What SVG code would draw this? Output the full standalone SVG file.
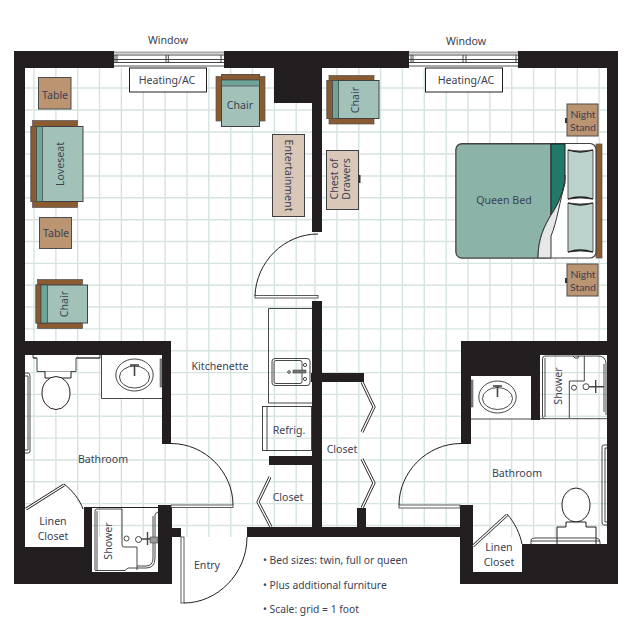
<svg xmlns="http://www.w3.org/2000/svg" width="627" height="638" viewBox="0 0 627 638">
<style>
text{font-family:"Noto Sans","Open Sans",sans-serif;font-size:10.6px;fill:#3a4252;text-anchor:middle;dominant-baseline:central}
text.ns{font-family:Lato,"Noto Sans",sans-serif;font-size:10.4px}
.note{font-size:10.3px;text-anchor:start}
.wall{fill:#231f20}
.grid{stroke:#d6e4e0;stroke-width:1.4;fill:none}
.ln{fill:none;stroke:#231f20;stroke-width:1}
.box{fill:#fff;stroke:#231f20;stroke-width:1}
.tan{fill:#bb9472;stroke:#4d4d4d;stroke-width:1}
.arm{fill:#8a5a30;stroke:#555;stroke-width:.7}
.seat{fill:#a2c2b9;stroke:#414042;stroke-width:1}
.back{fill:#6fa598;stroke:#414042;stroke-width:.7}
.dbl{fill:none;stroke:#231f20;stroke-width:3}
.dbl2{fill:none;stroke:#fff;stroke-width:1.4}
.leaf{fill:#fff;stroke:#333;stroke-width:.8}
.fix{fill:none;stroke:#333;stroke-width:.9}
.wg{stroke:#a7a9ac;stroke-width:2;fill:none}
.wd{stroke:#333;stroke-width:.9;fill:none}
</style>
<defs>
<clipPath id="floor"><path d="M25 68H607V537H25Z"/></clipPath>
</defs>
<g id="floor-grid" clip-path="url(#floor)">
<path class="grid" d="M34 68V537M55.900 68V537M77.700 68V537M99.500 68V537M121.400 68V537M143.300 68V537M165.100 68V537M187 68V537M208.800 68V537M230.700 68V537M252.500 68V537M274.400 68V537M296.200 68V537M315 68V537M336.900 68V537M358.800 68V537M380.600 68V537M402.400 68V537M424.300 68V537M446.200 68V537M468 68V537M489.900 68V537M511.700 68V537M533.600 68V537M555.400 68V537M577.300 68V537M599.100 68V537"/>
<path class="grid" d="M25 88H607M25 110H607M25 132H607M25 154H607M25 176H607M25 197.800H607M25 219.700H607M25 241.500H607M25 263.400H607M25 285.200H607M25 307H607M25 328.900H607M25 350.700H607M25 372.600H607M25 394.400H607M25 416.300H607M25 438.100H607M25 460H607M25 481.800H607M25 503.600H607M25 525.500H607"/>
</g>
<g id="white-areas">
<path d="M25 512L64 486L84 510V547H25Z" fill="#fff"/>
<rect x="473" y="544" width="49" height="28" fill="#fff"/>
<rect x="101.500" y="355" width="61" height="43" fill="#fff"/>
<rect x="471" y="376" width="60" height="43" fill="#fff"/>
<rect x="37" y="355" width="39" height="17" fill="#fff"/>
</g>
<g id="walls">
<path class="wall" d="M14 51H114V68H25V341H171V444H162V355H25V547H84V507H92V572H158V505H172V528H181V537H172V584H14Z"/>
<path class="wall" d="M224 51H409V68H322V232H312V103H274V68H224Z"/>
<path class="wall" d="M518 51H618V584H460V537H247V527H357V508H366V527H460V505H473V572H522V544H607V355H540V420H531V376H471V444H461V341H607V68H518Z"/>
<rect class="wall" x="312" y="301" width="10" height="226"/>
<rect class="wall" x="269" y="456" width="43" height="9"/>
<rect class="wall" x="311" y="373" width="53" height="9"/>
</g>
<g id="window-left">
<rect x="114" y="51" width="110" height="17" fill="#fff"/>
<path class="wg" d="M114 52.500H224M114 66H224"/>
<path class="wd" d="M114 55H224M114 59.500H224M114 62.500H224M115 55V63M117 55V63M166 55V63M168.300 55V63M221 55V63"/>
</g>
<g id="window-right">
<rect x="409" y="51" width="109" height="17" fill="#fff"/>
<path class="wg" d="M409 52.500H518M409 66H518"/>
<path class="wd" d="M409 55H518M409 59.500H518M409 62.500H518M411 55V63M413 55V63M463 55V63M466 55V63M516 55V63"/>
</g>
<text x="168" y="39.500">Window</text>
<text x="466" y="40.500">Window</text>
<g id="heating-left"><rect class="box" x="129.500" y="68" width="77" height="24"/><text x="167" y="79.500">Heating/AC</text></g>
<g id="heating-right"><rect class="box" x="425.500" y="68" width="77" height="24"/><text x="466" y="79.500">Heating/AC</text></g>
<g id="table-1"><rect class="tan" x="38.500" y="77.500" width="32.500" height="31.500"/><text x="55" y="94.500">Table</text></g>
<g id="table-2"><rect class="tan" x="39.500" y="217.500" width="32" height="31"/><text x="56" y="232.500">Table</text></g>
<g id="loveseat">
<rect class="arm" x="32.500" y="120.500" width="45" height="6"/><rect class="arm" x="32.500" y="201.500" width="45" height="6"/>
<rect class="seat" x="31" y="126.500" width="52" height="75"/><rect class="arm" x="31" y="126.500" width="5.500" height="75"/><rect class="back" x="36.500" y="126.500" width="6" height="75"/>
<text transform="translate(60 164) rotate(-90)">Loveseat</text></g>
<g id="chair-top">
<rect class="arm" x="216" y="76.500" width="6" height="44.500"/><rect class="arm" x="259" y="76.500" width="6" height="44.500"/>
<rect class="seat" x="221.500" y="74.500" width="38" height="52"/><rect class="arm" x="221.500" y="74.500" width="38" height="5.500"/><rect class="back" x="221.500" y="80" width="38" height="6"/>
<text x="240" y="104.500">Chair</text></g>
<g id="chair-left">
<rect class="arm" x="37.500" y="279.500" width="45" height="6"/><rect class="arm" x="37.500" y="322.500" width="45" height="6"/>
<rect class="seat" x="36" y="285" width="51.500" height="38"/><rect class="arm" x="36" y="285" width="5" height="38"/><rect class="back" x="41" y="285" width="6.500" height="38"/>
<text transform="translate(64 304) rotate(-90)">Chair</text></g>
<g id="chair-right">
<rect class="arm" x="329" y="75.500" width="45" height="6"/><rect class="arm" x="329" y="118" width="45" height="6"/>
<rect class="seat" x="327" y="80.500" width="52" height="38"/><rect class="arm" x="327" y="80.500" width="5.500" height="38"/><rect class="back" x="332.500" y="80.500" width="6" height="38"/>
<text transform="translate(355 100) rotate(-90)">Chair</text></g>
<g id="entertainment"><rect x="272.500" y="134.500" width="32" height="82" fill="#d9c8b8" stroke="#414042"/><text transform="translate(289 175.500) rotate(90)">Entertainment</text></g>
<g id="chest"><rect x="326.500" y="150.500" width="32" height="59" fill="#d9c8b8" stroke="#414042"/><rect x="358.500" y="175" width="2" height="8" fill="#333"/>
<text transform="translate(340.500 179) rotate(-90)"><tspan x="0" y="-6.500">Chest of</tspan><tspan x="0" y="5.500">Drawers</tspan></text></g>
<g id="stand-1"><rect class="tan" x="567" y="104" width="31" height="32"/><rect x="565" y="118" width="2" height="5" fill="#333"/><text class="ns" x="583" y="114">Night</text><text class="ns" x="583" y="126.800">Stand</text></g>
<g id="stand-2"><rect class="tan" x="567" y="264" width="31" height="32"/><rect x="565" y="278" width="2" height="5" fill="#333"/><text class="ns" x="583" y="274">Night</text><text class="ns" x="583" y="286.800">Stand</text></g>
<g id="bed">
<rect x="596" y="144" width="6" height="114" fill="#8a5a30" stroke="#555" stroke-width=".7"/>
<rect x="456" y="143.500" width="140" height="114.500" rx="6" fill="#fff" stroke="#414042" stroke-width="1.200"/>
<path d="M551 144H462A6 6 0 0 0 456 150V252A6 6 0 0 0 462 258H538C538 238 545 225 551 215Z" fill="#8cb3a8" stroke="#414042"/>
<path d="M551 144H565V175C565 190 558 205 551 215Z" fill="#217a68" stroke="#231f20"/>
<path d="M551 215C545 225 538 238 538 258H551V236C557 222 560 200 565 183V175C565 190 558 205 551 215Z" fill="#e6e7e8" stroke="#333"/>
<path d="M568 150Q580 152 593 150V199Q580 197 568 199Z" fill="#bcd3cd" stroke="#555"/>
<path d="M568 203Q580 205 593 203V252Q580 250 568 252Z" fill="#bcd3cd" stroke="#555"/>
<path d="M568 150Q580 154 593 150M568 199Q580 195 593 199M568 203Q580 207 593 203M568 252Q580 248 593 252" fill="none" stroke="#231f20" stroke-width="1.300"/>
<text x="504" y="199.500">Queen Bed</text></g>
<g id="kitchenette">
<path class="fix" d="M312 403H268.500V308.500H312"/>
<rect x="272" y="358.500" width="38" height="27" rx="3" class="fix"/><rect x="274" y="360.500" width="28" height="23" rx="2" class="fix"/>
<circle cx="305" cy="365" r="1.600" class="fix"/><circle cx="305" cy="379" r="1.600" class="fix"/><circle cx="289" cy="372" r="1.300" class="fix"/><rect x="293" y="370" width="13" height="3" fill="#777" stroke="#333" stroke-width=".5"/>
<text x="220" y="365.500">Kitchenette</text></g>
<g id="refrig"><rect class="fix" x="262.500" y="406.500" width="49" height="44"/><path class="fix" d="M267 406.500V450.500"/><text x="289" y="429.500">Refrig.</text></g>
<g id="bath-left">
<path class="fix" d="M33 355V358H37V371.500H76V358H100V355M33 358H37M76 358H100"/>
<path class="box" d="M45 371.500V378H71V371.500"/>
<ellipse class="box" cx="56" cy="393" rx="14" ry="16.500"/>
<path class="fix" d="M25 373H28Q30 373 30 376V451Q30 453 28 453H25M25 376H28V450H25"/>
<path class="fix" d="M162 398.500H101.500V355"/><rect x="160" y="359" width="2" height="28" fill="#888" stroke="#444" stroke-width=".5"/>
<ellipse class="fix" cx="134.500" cy="375" rx="18.700" ry="16"/><ellipse class="fix" cx="134.500" cy="377" rx="15" ry="11"/>
<path d="M134.500 365V376" stroke="#444" stroke-width="1.600"/><path d="M130 365H139" stroke="#444" stroke-width="1.600"/>
<text x="103" y="458.500">Bathroom</text></g>
<g id="door-left-bath"><path class="ln" d="M171 443.500C205 443.500 233 472 233 505"/><rect class="leaf" x="171" y="505" width="62" height="2.500"/></g>
<g id="door-main"><path class="ln" d="M318 234C284 234 256 262 255 296"/><rect class="leaf" x="255" y="295.500" width="63" height="2.500"/></g>
<g id="door-entry"><path class="ln" d="M247 537C247 574 217 603 184 603"/><rect class="leaf" x="181" y="537" width="3" height="66"/><text x="207" y="564.500">Entry</text></g>
<g id="door-right-bath"><path class="ln" d="M461 443.500C427 443.500 399 472 399 505"/><rect class="leaf" x="399" y="505" width="61" height="3"/></g>
<g id="linen-left"><path class="ln" d="M64 484C72 490 80 500 83 509"/><path class="dbl" d="M26 509L64 485"/><path class="dbl2" d="M26 509L64 485"/><text><tspan x="53" y="520.500">Linen</tspan><tspan x="53" y="535.500">Closet</tspan></text></g>
<g id="linen-right"><path class="ln" d="M507 514C515 523 520 534 522 544"/><path class="dbl" d="M473 546L507 515"/><path class="dbl2" d="M473 546L507 515"/><text><tspan x="499" y="546.500">Linen</tspan><tspan x="499" y="561.500">Closet</tspan></text></g>
<g id="shower-left">
<path class="ln" d="M92 507.500H158"/>
<path class="fix" d="M95 570V511Q95 509 97 509H122V545Q122 547 124 547H137V570M97 570V511"/>
<path class="fix" d="M95 570.500H125L128 568H146Q155 568 155 558V515Q155 513 158 512M137 566H146Q153 566 153 558V516"/>
<circle class="fix" cx="126.500" cy="538.500" r="2.500"/><circle class="fix" cx="138.500" cy="539.500" r="3"/>
<path d="M141 539H151M147.500 532V545" stroke="#444" stroke-width="1.400"/><rect x="150" y="537" width="8" height="6" fill="#999" stroke="#333" stroke-width=".5"/>
<text transform="translate(107.500 541) rotate(-90)">Shower</text></g>
<g id="shower-right">
<path class="fix" d="M540 418.700H607M545 418.700Q542.500 418.700 542.500 416V359Q542.500 356 545 356H598Q606 356 606 364V415"/>
<path class="fix" d="M545 417V358M584.300 356V381H569.300V418M604 364V412"/>
<path class="fix" d="M573 356L575 358H578L579 356"/>
<circle class="fix" cx="574" cy="387.700" r="2.500"/><circle class="fix" cx="586" cy="386.700" r="3"/>
<path d="M589 386.700H604M595.700 380V393" stroke="#444" stroke-width="1.400"/>
<text transform="translate(557.500 386) rotate(-90)">Shower</text></g>
<g id="bath-right">
<path class="fix" d="M471 419H531"/><rect x="471" y="380" width="2" height="27" fill="#888" stroke="#444" stroke-width=".5"/>
<ellipse class="fix" cx="497.500" cy="397" rx="18.700" ry="16"/><ellipse class="fix" cx="497.500" cy="398.500" rx="15" ry="11"/>
<path d="M497.500 386V397" stroke="#444" stroke-width="1.600"/><path d="M493 386H502" stroke="#444" stroke-width="1.600"/>
<ellipse class="box" cx="576" cy="505" rx="14" ry="17"/>
<path class="box" d="M557 544V527H566V522H586V527H596V544"/><path class="fix" d="M531 544V540Q531 538 535 538H596Q600 538 600 542V544M531 541H600"/>
<path class="fix" d="M607 445H604Q602 445 602 447V522Q602 525 604 525H607M607 448H605V522H607"/>
<text x="517" y="472.500">Bathroom</text></g>
<g id="closet-left"><path class="dbl" d="M270 477L258 502L271 527"/><path class="dbl2" d="M270 477L258 502L271 527"/><text x="288" y="496.500">Closet</text></g>
<g id="closet-right"><path class="dbl" d="M362 382L374 407L362 432"/><path class="dbl2" d="M362 382L374 407L362 432"/><path class="dbl" d="M362 459L374 483L362 508"/><path class="dbl2" d="M362 459L374 483L362 508"/><text x="342" y="448.500">Closet</text></g>
<g id="notes">
<text class="note" x="263" y="559.500">• Bed sizes: twin, full or queen</text>
<text class="note" x="263" y="584.500">• Plus additional furniture</text>
<text class="note" x="263" y="608.500">• Scale: grid = 1 foot</text>
</g>
</svg>
